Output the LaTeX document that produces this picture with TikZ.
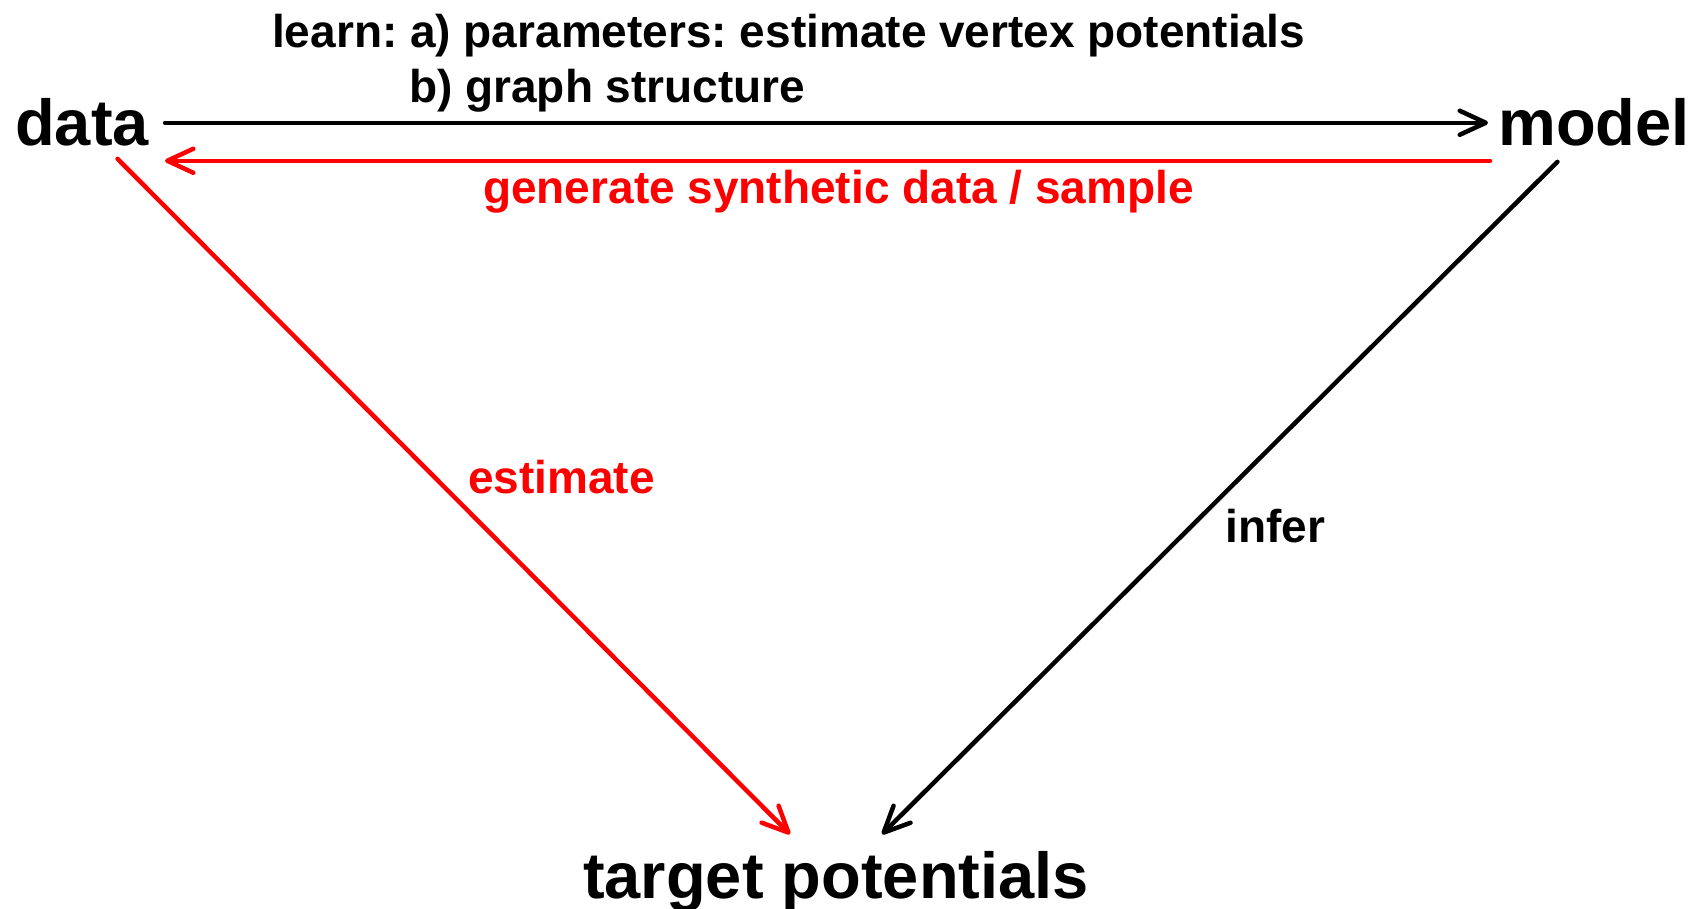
\documentclass[tikz,border=0pt]{standalone}
\usepackage{fontspec}
\setmainfont{Liberation Sans}
\usetikzlibrary{arrows.meta,calc}
\definecolor{flowred}{RGB}{255,0,0}
\frenchspacing
\begin{document}
\begin{tikzpicture}[x=1pt,y=-1pt,
  lbl/.style={inner sep=0pt, anchor=base west, font=\bfseries\fontsize{46}{55}\selectfont},
  big/.style={inner sep=0pt, anchor=base west, font=\bfseries\fontsize{65}{78}\selectfont},
  conn/.style={line width=4.5pt, line cap=round,
    -{Straight Barb[length=26pt,width=24pt,round]}}]
\useasboundingbox (0,0) rectangle (1693,909);
% main nodes
\node[big] (data) at (15,146) {data};
\node[big] (model) at (1498,146) {model};
\node[big] (target) at (583,898) {target potentials};
% labels
\node[lbl] (learn1) at (272,48) {learn: a) parameters: estimate vertex potentials};
\node[lbl] (learn2) at (409,103) {b) graph structure};
\node[lbl, text=flowred] (gen) at (483,204) {generate synthetic data / sample};
\node[lbl, text=flowred] (est) at (468,493) {estimate};
\node[lbl] (inf) at (1225,542) {infer};
% connectors
\draw[conn] ($(data.east)+(16,0)$) -- ($(model.west)+(-10,0)$);
\draw[conn, flowred] ($(model.west)+(-8,38)$) -- ($(data.east)+(16,38)$);
\draw[conn, flowred] ($(data.south)+(35.5,12)$) -- ($(target.north)+(-46,-16.5)$);
\draw[conn] ($(model.south)+(-36.5,15)$) -- ($(target.north)+(46,-16.5)$);
\end{tikzpicture}
\end{document}
